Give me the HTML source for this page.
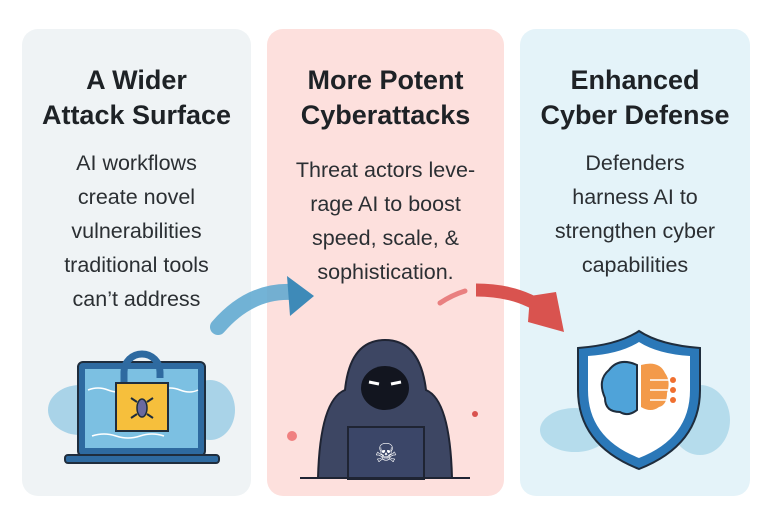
<!DOCTYPE html>
<html><head><meta charset="utf-8"><style>
body{margin:0;width:768px;height:517px;background:#fff;position:relative;overflow:hidden;font-family:"Liberation Sans",sans-serif}
.p{position:absolute;top:29px;height:467px;border-radius:16px}
.t{position:absolute;left:0;right:0;text-align:center;color:#1e2226;font-weight:bold;font-size:27px;line-height:35px;top:63px}
.b{position:absolute;left:0;right:0;text-align:center;color:#2b2f33;font-size:21.5px;line-height:34px;top:146px}
</style></head><body>
<div class="p" style="left:22px;width:229px;background:#eff3f5"></div>
<div class="p" style="left:267px;width:237px;background:#fde0dd"></div>
<div class="p" style="left:520px;width:230px;background:#e4f3f9"></div>

<div class="t" style="left:22px;width:229px;right:auto">A Wider<br>Attack Surface</div>
<div class="b" style="left:22px;width:229px;right:auto">AI workflows<br>create novel<br>vulnerabilities<br>traditional tools<br>can’t address</div>
<div class="t" style="left:267px;width:237px;right:auto">More Potent<br>Cyberattacks</div>
<div class="b" style="left:267px;width:237px;right:auto;top:153px">Threat actors leve-<br>rage AI to boost<br>speed, scale, &amp;<br>sophistication.</div>
<div class="t" style="left:520px;width:230px;right:auto">Enhanced<br>Cyber Defense</div>
<div class="b" style="left:520px;width:230px;right:auto">Defenders<br>harness AI to<br>strengthen cyber<br>capabilities</div>

<svg width="768" height="517" style="position:absolute;left:0;top:0">
<!-- blue arrow -->
<path d="M218 327 Q250 290 292 292" stroke="#5aa6cf" stroke-width="16" fill="none" stroke-linecap="round" opacity=".85"/>
<polygon points="287,276 314,296 290,316" fill="#3e8ab8"/>
<!-- red arrow -->
<path d="M440 303 Q452 295 465 291" stroke="#e98080" stroke-width="5" fill="none" stroke-linecap="round"/>
<path d="M476 290 Q520 290 548 312" stroke="#d9534f" stroke-width="13" fill="none"/>
<polygon points="530,296 556,292 564,332 528,322" fill="#d9534f"/>
<!-- left laptop -->
<g>
<ellipse cx="80" cy="410" rx="32" ry="25" fill="#a9d3e8"/>
<ellipse cx="210" cy="410" rx="25" ry="30" fill="#a9d3e8"/>
<rect x="78" y="362" width="127" height="94" rx="5" fill="#2e6aa0" stroke="#1f2d3d" stroke-width="2"/>
<rect x="85" y="369" width="113" height="79" fill="#7cc0e2"/>
<path d="M88 390 q10-4 20 0 t20 0 M160 390 q10-4 20 0 t18 0 M92 436 q12-4 24 0 t24 0 t24 0" stroke="#fff" stroke-width="1.5" fill="none"/>
<rect x="65" y="455" width="154" height="8" rx="3" fill="#2e6aa0" stroke="#1f2d3d" stroke-width="2"/>
<path d="M124 385 v-13 a18 18 0 0 1 36 0 v6" stroke="#2e6aa0" stroke-width="7" fill="none"/>
<rect x="116" y="383" width="52" height="48" fill="#f6bf3c" stroke="#1f2d3d" stroke-width="2"/>
<ellipse cx="142" cy="408" rx="5" ry="9" fill="#6a6aa0" stroke="#1f2d3d" stroke-width="1.5"/>
<path d="M137 402 l-6-4 M147 402 l6-4 M137 414 l-6 4 M147 414 l6 4" stroke="#1f2d3d" stroke-width="2"/>
</g>
<!-- hacker -->
<g>
<path d="M318 478 Q320 400 345 390 Q350 340 385 340 Q420 340 426 390 Q450 400 452 478 Z" fill="#3d4663" stroke="#1f2433" stroke-width="2"/>
<ellipse cx="385" cy="388" rx="24" ry="22" fill="#12151f"/>
<path d="M369 382 l10 2 M391 384 l10-2" stroke="#fff" stroke-width="3"/>
<rect x="348" y="427" width="76" height="52" fill="#3b4668" stroke="#1f2433" stroke-width="2"/>
<text x="386" y="462" font-size="26" text-anchor="middle" fill="#fff">☠</text>
<line x1="300" y1="478" x2="470" y2="478" stroke="#1f2433" stroke-width="2"/>
<circle cx="292" cy="436" r="5" fill="#f08080"/>
<circle cx="475" cy="414" r="3" fill="#d9534f"/>
</g>
<!-- shield -->
<g>
<ellipse cx="575" cy="430" rx="35" ry="22" fill="#b5dcec"/>
<ellipse cx="700" cy="420" rx="30" ry="35" fill="#b5dcec"/>
<path d="M639 331 Q660 345 700 348 L700 390 Q700 445 639 469 Q578 445 578 390 L578 348 Q618 345 639 331 Z" fill="#2b78b8" stroke="#1f2d3d" stroke-width="2"/>
<path d="M639 342 Q658 354 690 356 L690 390 Q690 438 639 458 Q588 438 588 390 L588 356 Q620 354 639 342 Z" fill="#fff"/>
<path d="M637 365 q-18-8 -28 5 q-12 10 -4 28 q0 14 15 14 q8 5 17-2 Z" fill="#4fa3d9" stroke="#1f2d3d" stroke-width="2"/>
<path d="M641 365 q18-5 24 8 q6 8 2 20 q0 12-8 14 q-8 6-18 0 Z" fill="#f39a4a"/>
<path d="M650 380 h20 M650 390 h20 M650 400 h20" stroke="#fff" stroke-width="1.5"/>
<circle cx="673" cy="380" r="3" fill="#f07030"/><circle cx="673" cy="390" r="3" fill="#f07030"/><circle cx="673" cy="400" r="3" fill="#f07030"/>
</g>
</svg>
</body></html>
